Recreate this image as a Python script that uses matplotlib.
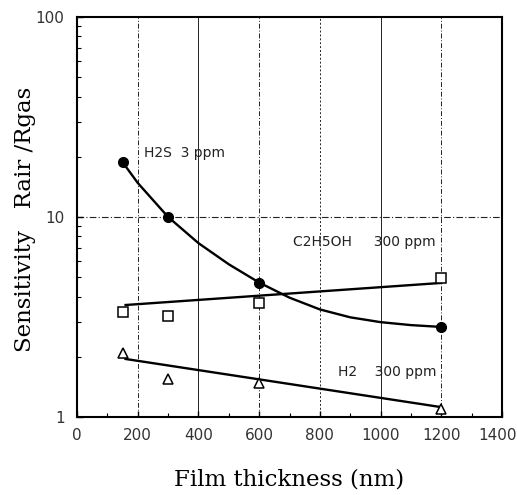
import matplotlib
matplotlib.use("Agg")
import matplotlib.pyplot as plt
import matplotlib.transforms as mtransforms
from matplotlib.ticker import FixedLocator, NullFormatter, LogLocator

# Data
thickness = [150, 300, 600, 1200]
h2s = [18.8, 10.0, 4.7, 2.82]
c2h5oh = [3.35, 3.2, 3.7, 4.95]
h2 = [2.09, 1.55, 1.48, 1.1]

# Fitted curves as drawn in the figure
h2s_fit_x = [150, 200, 300, 400, 500, 600, 700, 800, 900, 1000, 1100, 1200]
h2s_fit_y = [18.8, 14.8, 10.0, 7.4, 5.8, 4.7, 3.95, 3.45, 3.15, 2.98, 2.88, 2.82]
c2h5oh_fit_x = [160, 1200]
c2h5oh_fit_y = [3.63, 4.68]
h2_fit_x = [160, 1200]
h2_fit_y = [1.95, 1.12]

xticks = [0, 200, 400, 600, 800, 1000, 1200, 1400]
yticks = [1, 10, 100]
ytick_labels = ["1", "10", "100"]

fig = plt.figure(figsize=(5.17, 4.95), dpi=100)
ax = fig.add_axes([0.149, 0.1576, 0.822, 0.8081])
ax.set_yscale("log")
ax.set_xlim(0, 1400)
ax.set_ylim(1, 100)

# grid-like guide lines
vstyles = {200: (0, (5, 2, 1, 2)), 400: "-", 600: (0, (5, 2, 1, 2)),
           800: (0, (2, 2)), 1000: "-", 1200: (0, (5, 2, 1, 2))}
for xv, ls in vstyles.items():
    ax.axvline(xv, color="#222222", lw=0.7, ls=ls, zorder=1)
ax.axhline(10, color="#222222", lw=0.8, ls=(0, (6, 2, 1, 2)), zorder=1)

# curves
ax.plot(h2s_fit_x, h2s_fit_y, color="black", lw=1.7, zorder=2)
ax.plot(c2h5oh_fit_x, c2h5oh_fit_y, color="black", lw=1.7, zorder=2)
ax.plot(h2_fit_x, h2_fit_y, color="black", lw=1.7, zorder=2)

# markers
ax.plot(thickness, h2s, "o", color="black", ms=7, zorder=3)
ax.plot(thickness, c2h5oh, "s", mfc="white", mec="black", mew=1.1, ms=7, zorder=3)
ax.plot(thickness, h2, "^", mfc="white", mec="black", mew=1.1, ms=6.5, zorder=3)

tfont = dict(family="DejaVu Sans", fontsize=10, color="#222222")
ax.text(222, 21, "H2S  3 ppm", va="center", ha="left", **tfont)
ax.text(710, 7.5, "C2H5OH     300 ppm", va="center", ha="left", **tfont)
ax.text(860, 1.68, "H2    300 ppm", va="center", ha="left", **tfont)

for s in ax.spines.values():
    s.set_linewidth(1.5)

ax.xaxis.set_major_locator(FixedLocator(xticks))
ax.xaxis.set_minor_locator(FixedLocator(list(range(100, 1400, 200))))
ax.yaxis.set_major_locator(FixedLocator(yticks))
ax.yaxis.set_minor_locator(LogLocator(base=10, subs=range(2, 10)))
ax.yaxis.set_minor_formatter(NullFormatter())
ax.set_yticklabels(ytick_labels)
ax.tick_params(which="both", direction="in", top=False, right=False)
ax.tick_params(which="major", length=4, width=1)
ax.tick_params(which="minor", length=3, width=0.8)
ax.tick_params(axis="x", pad=8)
ax.tick_params(axis="y", pad=9)
for lab in ax.get_xticklabels() + ax.get_yticklabels():
    lab.set_family("DejaVu Sans")
    lab.set_fontsize(11)
    lab.set_color("#333333")
# keep the last x label inside the canvas
last = ax.get_xticklabels()[-1]
last.set_transform(last.get_transform() + mtransforms.ScaledTranslation(-4 / 100, 0, fig.dpi_scale_trans))

ax.set_xlabel("Film thickness (nm)", family="DejaVu Serif", fontsize=16.5)
ax.set_ylabel("Sensitivity   Rair /Rgas", family="DejaVu Serif", fontsize=16.5)
ax.xaxis.set_label_coords(0.5, -0.1575)
ax.yaxis.set_label_coords(-0.122, 0.495)
ax.xaxis.label.set_va("center")
ax.yaxis.label.set_va("center")

fig.savefig("out.png", dpi=100)
